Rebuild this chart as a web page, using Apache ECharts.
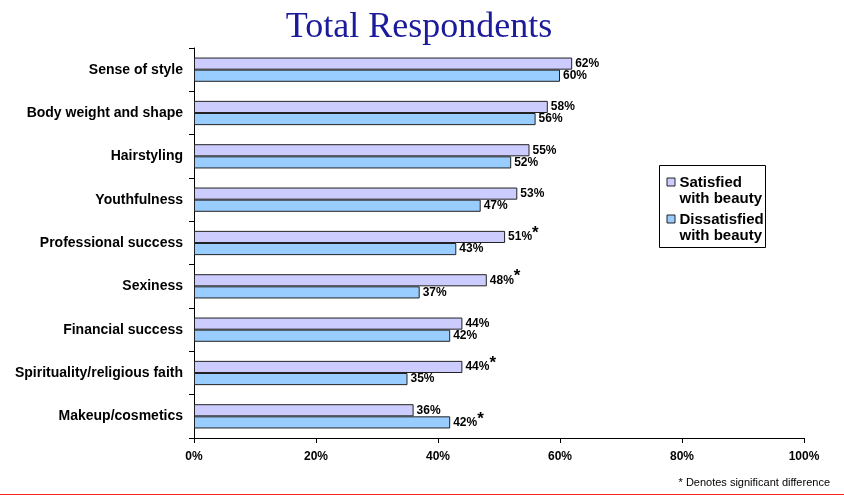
<!DOCTYPE html>
<html>
<head>
<meta charset="utf-8">
<script src="https://cdn.jsdelivr.net/npm/echarts@6/dist/echarts.min.js"></script>
<style>
  html, body { margin: 0; padding: 0; background: #fff; }
  #chart { width: 844px; height: 497px; }
</style>
</head>
<body>
<div id="chart"></div>
<script>
// Survey attributes, top to bottom
const categories = [
  'Sense of style',
  'Body weight and shape',
  'Hairstyling',
  'Youthfulness',
  'Professional success',
  'Sexiness',
  'Financial success',
  'Spirituality/religious faith',
  'Makeup/cosmetics'
];
const satisfied = [62, 58, 55, 53, 51, 48, 44, 44, 36];
const dissatisfied = [60, 56, 52, 47, 43, 37, 42, 35, 42];
// Which values carry a significance asterisk
const satisfiedSig = [false, false, false, false, true, true, false, true, false];
const dissatisfiedSig = [false, false, false, false, false, false, false, false, true];
const seriesNames = ['Satisfied with beauty', 'Dissatisfied with beauty'];
const seriesColors = ['#ccccff', '#99ccff'];

const FONT = 'Liberation Sans, Arial, sans-serif';
const chart = echarts.init(document.getElementById('chart'));

function valueLabel(sig) {
  return {
    show: true,
    position: 'right',
    distance: 3,
    formatter: p => sig[p.dataIndex] ? '{v|' + p.value + '%}{s|*}' : '{v|' + p.value + '%}',
    rich: {
      v: { fontFamily: FONT, fontWeight: 'bold', fontSize: 12, color: '#000' },
      s: { fontFamily: FONT, fontWeight: 'bold', fontSize: 17, color: '#000', verticalAlign: 'top', padding: [0, 0, 7, 0] }
    }
  };
}

// Boxed legend: square swatch beside the first line of a two-line name
function legendGraphic() {
  const children = [{
    type: 'rect',
    shape: { x: 0, y: 0, width: 106, height: 82 },
    style: { fill: '#fff', stroke: '#000', lineWidth: 1 }
  }];
  seriesNames.forEach((name, i) => {
    const y0 = 9 + i * 37;
    children.push({
      type: 'rect',
      shape: { x: 7.5, y: y0 + 3.5, width: 8, height: 8 },
      style: { fill: seriesColors[i], stroke: '#222', lineWidth: 1 }
    });
    children.push({
      type: 'text',
      x: 20,
      y: y0,
      style: {
        text: name.replace(' with', '\nwith'),
        fontFamily: FONT,
        fontWeight: 'bold',
        fontSize: 15,
        lineHeight: 16,
        fill: '#000'
      }
    });
  });
  return { type: 'group', x: 659.5, y: 165.5, children };
}

chart.setOption({
  animation: false,
  title: {
    text: 'Total Respondents',
    left: 414,
    textAlign: 'center',
    top: 5,
    textStyle: { fontFamily: 'Liberation Serif, DejaVu Serif, serif', fontWeight: 'normal', fontSize: 36, color: '#1a1a9a' }
  },
  legend: { show: false, data: seriesNames },
  grid: { left: 194, right: 40, top: 48, bottom: 59, containLabel: false },
  xAxis: {
    type: 'value',
    min: 0,
    max: 100,
    interval: 20,
    axisLine: { show: true, lineStyle: { color: '#000', width: 1 } },
    axisTick: { show: true, length: 5, lineStyle: { color: '#000' } },
    splitLine: { show: false },
    axisLabel: {
      formatter: v => v + '%',
      margin: 13,
      fontFamily: FONT,
      fontWeight: 'bold',
      fontSize: 12,
      color: '#000'
    }
  },
  yAxis: {
    type: 'category',
    data: categories,
    inverse: true,
    axisLine: { show: true, lineStyle: { color: '#000', width: 1 } },
    axisTick: { show: true, length: 5, lineStyle: { color: '#000' } },
    axisLabel: {
      margin: 11,
      fontFamily: FONT,
      fontWeight: 'bold',
      fontSize: 14,
      color: '#000'
    }
  },
  series: [
    {
      name: seriesNames[0],
      type: 'bar',
      data: satisfied,
      barGap: '0%',
      barCategoryGap: '44%',
      itemStyle: { color: seriesColors[0], borderColor: '#222', borderWidth: 1 },
      label: valueLabel(satisfiedSig)
    },
    {
      name: seriesNames[1],
      type: 'bar',
      data: dissatisfied,
      itemStyle: { color: seriesColors[1], borderColor: '#222', borderWidth: 1 },
      label: valueLabel(dissatisfiedSig)
    }
  ],
  graphic: [
    legendGraphic(),
    {
      type: 'text',
      right: 14,
      top: 477,
      style: { text: '* Denotes significant difference', fontFamily: FONT, fontSize: 11, fill: '#000' }
    },
    {
      type: 'rect',
      left: 0,
      top: 494,
      shape: { width: 844, height: 1 },
      style: { fill: '#ff2020' }
    }
  ]
});
</script>
</body>
</html>
